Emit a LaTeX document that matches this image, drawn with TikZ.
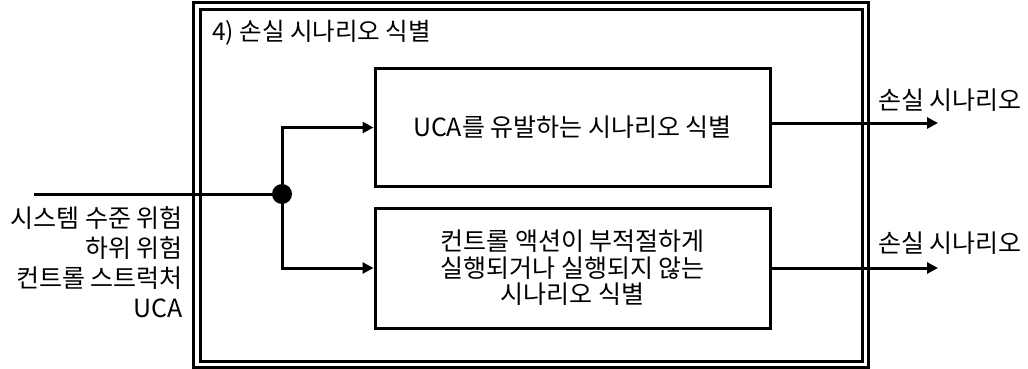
\documentclass[tikz,border=0pt]{standalone}
\usepackage{fontspec}
\setmainfont{Noto Sans CJK KR}
\usetikzlibrary{arrows.meta}
\begin{document}
\begin{tikzpicture}[x=1pt,y=-1pt,
  frame/.style={draw,line width=3pt,inner sep=0pt},
  box/.style={draw,line width=3pt,minimum width=395pt,inner sep=0pt,align=center,font=\fontsize{25}{26.5}\selectfont},
  conn/.style={line width=3pt,-{Triangle[length=11pt,width=11pt]}},
  lbl/.style={font=\fontsize{25}{30}\selectfont,inner sep=0pt}]
\useasboundingbox (0,0) rectangle (1028,369);
\node[frame,minimum width=675pt,minimum height=364pt] (outer) at (530.5,185) {};
\node[frame,minimum width=662pt,minimum height=351pt] (inner) at (531,185.5) {};
\node[lbl,anchor=west,font=\fontsize{24.5}{30}\selectfont] (title) at (212,33) {4) 손실 시나리오 식별};
\node[box,minimum height=118.5pt] (uca) at (572.5,127.5) {UCA를 유발하는 시나리오 식별};
\node[box,minimum height=120pt] (inad) at (572.5,268) {컨트롤 액션이 부적절하게\\실행되거나 실행되지 않는\\시나리오 식별};
\node[circle,fill,inner sep=0pt,minimum size=20pt] (j) at (282,194) {};
\coordinate (in) at (34,194);
\coordinate (o1) at (938,123);
\coordinate (o2) at (938,268);
\draw[line width=3pt] (in) -- (j.center);
\draw[conn] (j.center) |- (uca.west);
\draw[conn] (j.center) |- (inad.west);
\draw[conn] (uca.east|-o1) -- (o1);
\draw[conn] (inad.east) -- (o2);
\node[lbl] (l1) at (950,100) {손실 시나리오};
\node[lbl] (l2) at (950,243) {손실 시나리오};
\node[lbl,anchor=east,align=right] (inputs) at (183,262.5) {시스템 수준 위험\\하위 위험\\컨트롤 스트럭처\\UCA};
\end{tikzpicture}
\end{document}
